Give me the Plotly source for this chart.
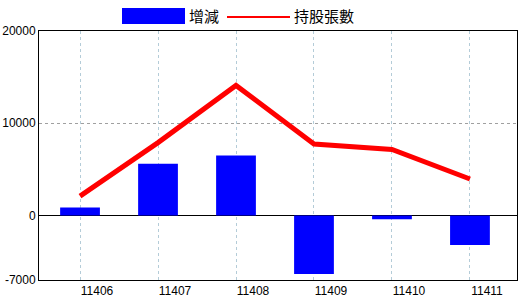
import plotly.graph_objects as go

categories = ["11406", "11407", "11408", "11409", "11410", "11411"]
change_values = [850, 5600, 6500, -6350, -400, -3200]
holding_values = [2100, 7900, 14100, 7750, 7150, 3950]
y_tick_vals = [20000, 10000, 0, -7000]
y_tick_text = ["20000", "10000", "0", "-7000"]
bar_name = "增減"
line_name = "持股張數"

L, R, T, B = 39, 3, 31, 20
W, H = 520, 300
pw, ph = W - L - R, H - T - B

def px(x):
    return (x - L) / pw

def py(y):
    return (H - B - y) / ph

fig = go.Figure()
fig.add_trace(go.Bar(x=categories, y=change_values, name=bar_name,
                     marker=dict(color="#0000ff", line=dict(width=0)), width=0.51))
fig.add_trace(go.Scatter(x=categories, y=holding_values, name=line_name, mode="lines",
                         line=dict(color="#ff0000", width=5)))

fig.update_layout(
    width=W, height=H,
    margin=dict(l=L, r=R, t=T, b=B),
    paper_bgcolor="white", plot_bgcolor="white",
    showlegend=False,
    font=dict(family="Liberation Sans, Arial, sans-serif", size=12, color="black"),
    xaxis=dict(type="category", range=[-0.526, 5.603], automargin=False,
               showgrid=True, gridcolor="#b4ccd8", griddash="dot", gridwidth=1,
               showline=True, linecolor="black", linewidth=1, mirror=True,
               ticks="", ticklabelshift=17,
               tickfont=dict(size=12, color="black")),
    yaxis=dict(range=[-7000, 20000], tickvals=y_tick_vals, ticktext=y_tick_text,
               automargin=False,
               showgrid=True, gridcolor="#a0a0a0", griddash="dot", gridwidth=1,
               zeroline=True, zerolinecolor="black", zerolinewidth=1,
               showline=True, linecolor="black", linewidth=1, mirror=True,
               ticks="", tickfont=dict(size=12, color="black")),
)

# custom legend
fig.add_shape(type="rect", xref="paper", yref="paper",
              x0=px(122), x1=px(185), y0=py(24), y1=py(8),
              fillcolor="#0000ff", line=dict(width=0))
fig.add_shape(type="line", xref="paper", yref="paper",
              x0=px(227), x1=px(290), y0=py(17), y1=py(17),
              line=dict(color="#ff0000", width=2))
fig.add_annotation(xref="paper", yref="paper", x=px(187), y=py(16), text=bar_name,
                   showarrow=False, xanchor="left", yanchor="middle",
                   font=dict(family="Noto Sans CJK TC", size=15, color="black"))
fig.add_annotation(xref="paper", yref="paper", x=px(292), y=py(16), text=line_name,
                   showarrow=False, xanchor="left", yanchor="middle",
                   font=dict(family="Noto Sans CJK TC", size=15, color="black"))

fig.write_html("out.html")
